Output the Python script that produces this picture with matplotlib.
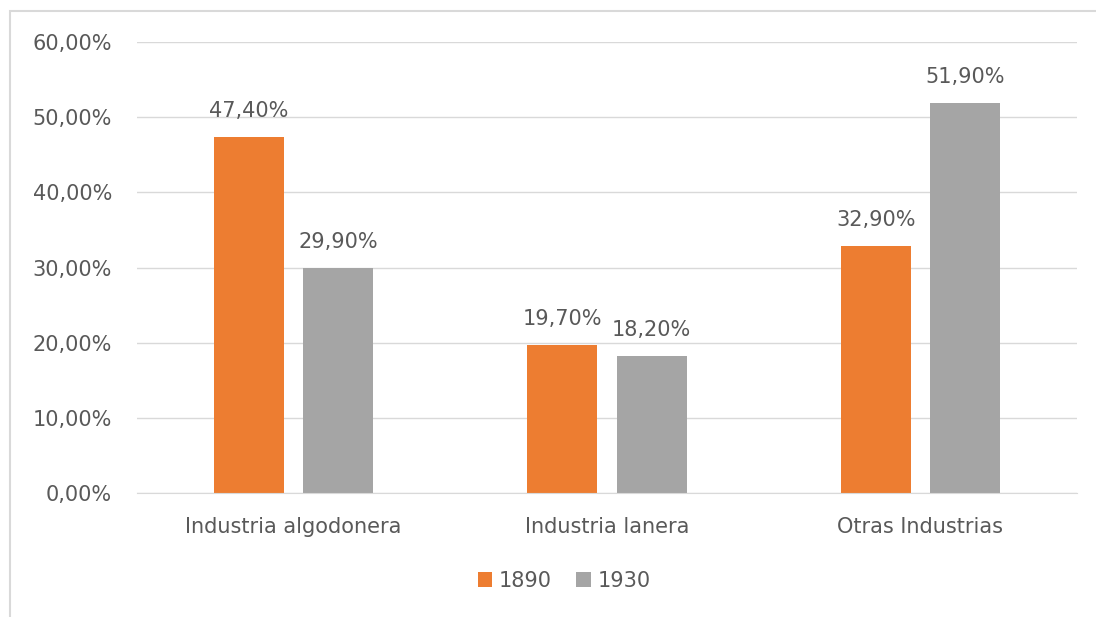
import matplotlib
matplotlib.use("Agg")
import matplotlib.pyplot as plt
from matplotlib.patches import Rectangle
import numpy as np

categories = ["Industria algodonera", "Industria lanera", "Otras Industrias"]
series_names = ["1890", "1930"]
values_1890 = [47.40, 19.70, 32.90]
values_1930 = [29.90, 18.20, 51.90]
yticks = [0, 10, 20, 30, 40, 50, 60]

colors = ["#ED7D31", "#A5A5A5"]
txt = "#595959"
plt.rcParams['font.family'] = ['DejaVu Sans']
FS = 15

W, H = 1096, 617
fig = plt.figure(figsize=(W/100, H/100), dpi=100)
fig.patch.set_facecolor("white")

# chart border (left and top visible)
fig.add_artist(Rectangle((9.5/W, -0.1), 1.2, (H-10.5)/H + 0.1, transform=fig.transFigure,
                         fill=False, edgecolor="#D9D9D9", linewidth=1.5))

left, right, top, bottom = 137, 1077, 42, 493
ax = fig.add_axes([left/W, 1-bottom/H, (right-left)/W, (bottom-top)/H])
ax.set_xlim(-0.5, 2.5)
ax.set_ylim(0, 60)

x = np.arange(len(categories))
bw = 70/313.3
gap = 19/313.3
off = (bw + gap)/2
b1 = ax.bar(x - off, values_1890, width=bw, color=colors[0], label=series_names[0], zorder=3)
b2 = ax.bar(x + off, values_1930, width=bw, color=colors[1], label=series_names[1], zorder=3)

for bars, vals in ((b1, values_1890), (b2, values_1930)):
    for r, v in zip(bars, vals):
        ax.annotate(f"{v:.2f}%".replace(".", ","), (r.get_x()+r.get_width()/2, v),
                    xytext=(0, 14.5), textcoords="offset points", ha="center", va="baseline",
                    fontsize=FS, color=txt)

ax.set_yticks(yticks)
ax.set_yticklabels([f"{t:.2f}%".replace(".", ",") for t in yticks])
ax.set_xticks(x)
ax.set_xticklabels(categories)
ax.tick_params(axis="both", length=0, labelsize=FS, labelcolor=txt)
ax.tick_params(axis="y", pad=18)
ax.tick_params(axis="x", pad=17)
ax.grid(axis="y", color="#D9D9D9", linewidth=1, zorder=0)
for s in ["top", "right", "left"]:
    ax.spines[s].set_visible(False)
ax.spines["bottom"].set_color("#D9D9D9")
ax.spines["bottom"].set_zorder(4)

leg = fig.legend(handles=[b1, b2], labels=series_names, loc="center",
                 bbox_to_anchor=(564/W, 1-581/H), ncol=2, frameon=False,
                 fontsize=FS, handlelength=0.7, handleheight=0.7, handletextpad=0.3,
                 columnspacing=1.2)
for t in leg.get_texts():
    t.set_color(txt)

fig.savefig("out.png", dpi=100, facecolor="white")
